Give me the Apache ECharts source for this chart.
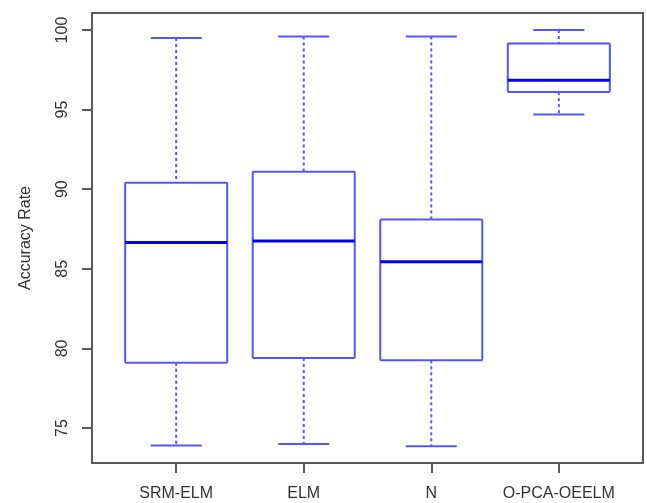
<!DOCTYPE html>
<html>
<head>
<meta charset="utf-8">
<script src="https://cdn.jsdelivr.net/npm/echarts@6/dist/echarts.min.js"></script>
<style>
html,body{margin:0;padding:0;background:#fff;}
#chart{width:647px;height:503px;}
</style>
</head>
<body>
<div id="chart"></div>
<script>
const categories = ['SRM-ELM', 'ELM', 'N', 'O-PCA-OEELM'];
const lowWhisker = [73.9, 74.0, 73.85, 94.7];
const q1 = [79.1, 79.4, 79.25, 96.1];
const median = [86.65, 86.75, 85.45, 96.85];
const q3 = [90.4, 91.1, 88.1, 99.15];
const highWhisker = [99.5, 99.6, 99.6, 100.0];
const yTicks = [75, 80, 85, 90, 95, 100];
const xPositions = [1, 2, 3, 4];

const data = categories.map((c, i) => [xPositions[i], lowWhisker[i], q1[i], median[i], q3[i], highWhisker[i]]);

const boxColor = '#5555ff';
const medColor = '#0000f0';
const font = '"Liberation Sans", Arial, sans-serif';

function renderItem(params, api) {
  const x = api.value(0);
  const halfBox = 0.4, halfCap = 0.2;
  const pLo = api.coord([x, api.value(1)]);
  const pQ1 = api.coord([x, api.value(2)]);
  const pMed = api.coord([x, api.value(3)]);
  const pQ3 = api.coord([x, api.value(4)]);
  const pHi = api.coord([x, api.value(5)]);
  const bl = api.coord([x - halfBox, api.value(2)])[0];
  const br = api.coord([x + halfBox, api.value(2)])[0];
  const cl = api.coord([x - halfCap, api.value(2)])[0];
  const cr = api.coord([x + halfCap, api.value(2)])[0];
  const cx = pMed[0];
  const dashed = {stroke: boxColor, lineWidth: 2, lineDash: [3, 3]};
  const solid = {stroke: boxColor, lineWidth: 2};
  return {
    type: 'group',
    children: [
      {type: 'line', shape: {x1: cx, y1: pHi[1], x2: cx, y2: pQ3[1]}, style: dashed},
      {type: 'line', shape: {x1: cx, y1: pQ1[1], x2: cx, y2: pLo[1]}, style: dashed},
      {type: 'line', shape: {x1: cl, y1: pHi[1], x2: cr, y2: pHi[1]}, style: solid},
      {type: 'line', shape: {x1: cl, y1: pLo[1], x2: cr, y2: pLo[1]}, style: solid},
      {type: 'rect', shape: {x: bl, y: pQ3[1], width: br - bl, height: pQ1[1] - pQ3[1], r: 1}, style: {stroke: boxColor, fill: 'rgba(0,0,0,0)', lineWidth: 2}},
      {type: 'line', shape: {x1: bl, y1: pMed[1], x2: br, y2: pMed[1]}, style: {stroke: medColor, lineWidth: 3}}
    ]
  };
}

const chart = echarts.init(document.getElementById('chart'));
chart.setOption({
  animation: false,
  backgroundColor: '#ffffff',
  grid: {left: 92, right: 4, top: 13, bottom: 40, show: true, borderColor: '#5a5a5a', borderWidth: 2, backgroundColor: 'transparent'},
  xAxis: {
    type: 'value', min: 0.34, max: 4.66,
    splitLine: {show: false},
    axisLine: {show: false},
    axisTick: {show: true, length: 10, customValues: xPositions, lineStyle: {color: '#5a5a5a', width: 2}},
    axisLabel: {show: true, customValues: xPositions, margin: 23, fontSize: 16, color: '#333', fontFamily: font,
      formatter: v => categories[Math.round(v) - 1]}
  },
  yAxis: {
    type: 'value', min: 72.8, max: 101.07,
    name: 'Accuracy Rate', nameLocation: 'middle', nameRotate: 90, nameGap: 58,
    nameTextStyle: {fontSize: 16, color: '#333', fontFamily: font},
    splitLine: {show: false},
    axisLine: {show: false},
    axisTick: {show: true, length: 10, customValues: yTicks, lineStyle: {color: '#5a5a5a', width: 2}},
    axisLabel: {show: true, customValues: yTicks, rotate: 90, margin: 21, fontSize: 16, color: '#333', fontFamily: font}
  },
  series: [{
    type: 'custom',
    renderItem: renderItem,
    data: data,
    encode: {x: 0, y: [1, 2, 3, 4, 5]}
  }]
});
</script>
</body>
</html>
